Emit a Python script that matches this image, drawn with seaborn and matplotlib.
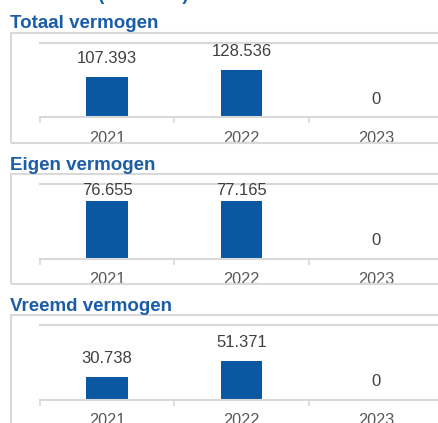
import matplotlib
matplotlib.use("Agg")
import matplotlib.pyplot as plt
import seaborn as sns
import pandas as pd
from matplotlib.patches import Rectangle

# Balance figures per year (x € 1.000)
years = ["2021", "2022", "2023"]
totaal = [107393, 128536, 0]
eigen = [76655, 77165, 0]
vreemd = [30738, 51371, 0]
titles = ["Totaal vermogen", "Eigen vermogen", "Vreemd vermogen"]
axis_max = [200000, 100000, 100000]
header = "Balansen (x € 1.000)"

sns.set_theme(style="white")
plt.rcParams["font.family"] = ["Liberation Sans", "DejaVu Sans"]

W, H = 439, 423
fig = plt.figure(figsize=(W / 100, H / 100), dpi=100)
fig.patch.set_facecolor("white")


def fx(px):
    return px / W


def fy(py):
    return 1 - py / H


BLUE = "#0b58a2"
TITLE = "#1b5da7"
LINE = "#d9d9d9"
TEXT = "#404040"


def fmt(v):
    return f"{v:,}".replace(",", ".")


# page header, mostly above the visible area
fig.text(fx(10), fy(0.2), header, fontsize=13.5, fontweight="bold",
         color=TITLE, va="baseline", ha="left")

series = [totaal, eigen, vreemd]
for i, (title, vals, ymax) in enumerate(zip(titles, series, axis_max)):
    off = 141 * i
    top_px = 43 + off
    base_px = 117.5 + off

    # panel frame
    fig.add_artist(Rectangle((fx(11), fy(143 + off)), fx(450) - fx(11),
                             (143 - 33) / H, transform=fig.transFigure,
                             fill=False, edgecolor=LINE, lw=1.5))
    fig.text(fx(10), fy(28.5 + off), title, fontsize=13.5, fontweight="bold",
             color=TITLE, va="baseline", ha="left")

    ax = fig.add_axes([fx(40), fy(base_px), fx(443) - fx(40),
                       (base_px - top_px) / H])
    ax.patch.set_alpha(0)
    df = pd.DataFrame({"jaar": years, "waarde": vals})
    sns.barplot(data=df, x="jaar", y="waarde", order=years, color=BLUE,
                width=0.31, saturation=1, ax=ax, errorbar=None,
                linewidth=0, edgecolor=BLUE)
    ax.set_xlim(-0.5, 2.5)
    ax.set_ylim(0, ymax)
    ax.set_xlabel("")
    ax.set_ylabel("")
    ax.set_yticks([])
    for s in ("left", "right"):
        ax.spines[s].set_visible(False)
    for s in ("top", "bottom"):
        ax.spines[s].set_color(LINE)
        ax.spines[s].set_linewidth(1.5)
    ax.set_xticks(range(len(years)))
    ax.set_xticklabels(years)
    ax.set_xticks([-0.5, 0.5, 1.5, 2.5], minor=True)
    ax.tick_params(axis="x", which="major", length=0, pad=9.5,
                   labelsize=11.7, labelcolor="#595959")
    ax.tick_params(axis="x", which="minor", length=4, width=1.2,
                   color=LINE, direction="out", bottom=True)

    # value labels above the bars
    inv = ax.transData.inverted()
    top_disp = H - top_px
    for x, v in enumerate(vals):
        bx, by = ax.transData.transform((x, v))
        cy = min(by + 20, top_disp - 4.5)
        _, ly = inv.transform((bx, cy))
        ax.text(x, ly, fmt(v), ha="center", va="center_baseline",
                fontsize=12, color=TEXT, clip_on=False)

fig.savefig("out.png", dpi=100, facecolor="white")
